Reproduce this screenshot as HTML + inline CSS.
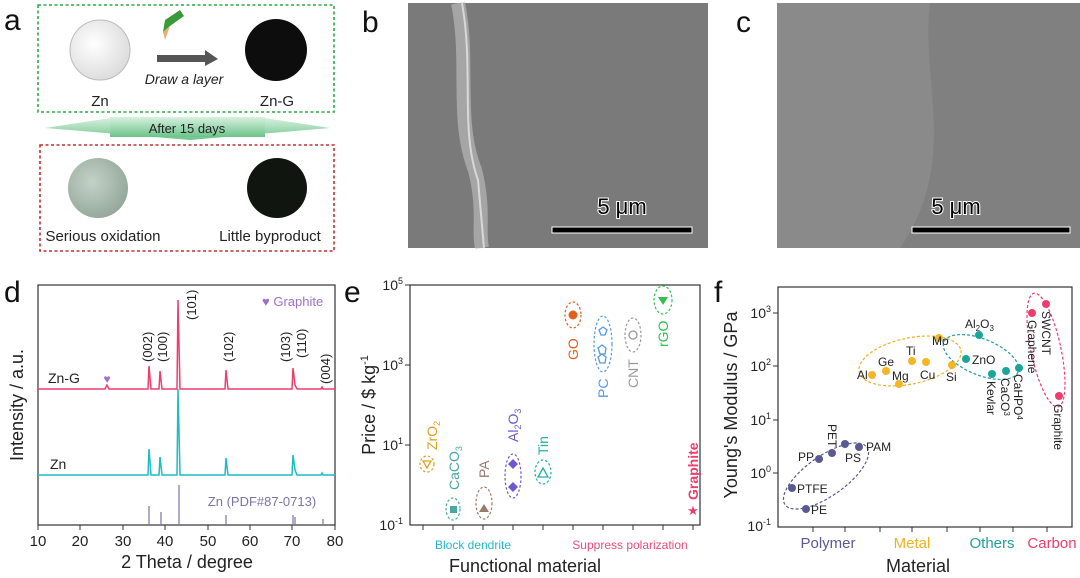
<!DOCTYPE html>
<html><head><meta charset="utf-8"><style>
html,body{margin:0;padding:0;background:#fff}
svg{display:block;font-family:"Liberation Sans",sans-serif}
</style></head><body>
<svg width="1080" height="578" viewBox="0 0 1080 578" xmlns="http://www.w3.org/2000/svg">
<defs>
<linearGradient id="ban" x1="0" y1="0" x2="0" y2="1"><stop offset="0" stop-color="#d8f0df"/><stop offset="1" stop-color="#6cc48a"/></linearGradient>
<radialGradient id="zn" cx="0.4" cy="0.4" r="0.7"><stop offset="0" stop-color="#fff"/><stop offset="1" stop-color="#d8d8d8"/></radialGradient>
<radialGradient id="ox" cx="0.4" cy="0.4" r="0.7"><stop offset="0" stop-color="#c4d2c8"/><stop offset="1" stop-color="#8fa396"/></radialGradient>
</defs>
<!-- panel b -->
<rect x="408" y="3" width="300" height="245" fill="#7a7a7a"/>
<path d="M458,3 C470,60 455,120 475,170 C485,210 478,230 482,248" stroke="#c8c8c8" stroke-width="14" fill="none" opacity="0.55"/>
<path d="M462,3 C474,70 460,130 478,180 L484,248" stroke="#eee" stroke-width="2" fill="none" opacity="0.7"/>
<rect x="552" y="227" width="140" height="6" fill="#000" stroke="#fff" stroke-width="1"/>
<text x="622" y="214" font-size="22" text-anchor="middle" fill="#000" stroke="#fff" stroke-width="2" paint-order="stroke">5 μm</text>
<!-- panel c -->
<rect x="777" y="3" width="303" height="245" fill="#8a8a8a"/>
<path d="M930,3 C920,80 960,160 900,248 L1080,248 L1080,3Z" fill="#808080"/>
<rect x="912" y="227" width="158" height="6" fill="#000" stroke="#fff" stroke-width="1"/>
<text x="956" y="214" font-size="22" text-anchor="middle" fill="#000" stroke="#fff" stroke-width="2" paint-order="stroke">5 μm</text>
<!-- panel letters -->
<g font-size="30" fill="#111">
<text x="4" y="30">a</text><text x="362" y="32">b</text><text x="736" y="32">c</text>
<text x="4" y="302">d</text><text x="344" y="302">e</text><text x="714" y="302">f</text>
</g>
<!-- panel a -->
<rect x="38" y="5" width="296" height="107" fill="none" stroke="#2ea84a" stroke-width="1.6" stroke-dasharray="3,2.5"/>
<circle cx="100" cy="50" r="30" fill="url(#zn)" stroke="#bbb"/>
<circle cx="276" cy="50" r="31" fill="#0d0d0d"/>
<polygon points="157,55 205,55 205,50 218,59 205,66 205,62 157,62" fill="#555"/>
<polygon points="165,20 180,10 184,16 170,26 163,32" fill="#3a9a3a"/>
<polygon points="163,32 170,26 165,40" fill="#e5b070"/>
<text x="100" y="106" font-size="15" text-anchor="middle" fill="#222">Zn</text>
<text x="277" y="106" font-size="15" text-anchor="middle" fill="#222">Zn-G</text>
<text x="184" y="84" font-size="14" font-style="italic" text-anchor="middle" fill="#222">Draw a layer</text>
<polygon points="45,128 110,118 265,118 330,128 190,140" fill="url(#ban)"/>
<rect x="110" y="117" width="155" height="20" fill="url(#ban)"/>
<text x="187" y="133" font-size="13" text-anchor="middle" fill="#222">After 15 days</text>
<rect x="40" y="145" width="294" height="106" fill="none" stroke="#c03030" stroke-width="1.6" stroke-dasharray="3,2.5"/>
<circle cx="98" cy="188" r="30" fill="url(#ox)"/>
<circle cx="277" cy="188" r="30" fill="#101510"/>
<text x="103" y="241" font-size="15" text-anchor="middle" fill="#222">Serious oxidation</text>
<text x="270" y="241" font-size="15" text-anchor="middle" fill="#222">Little byproduct</text>

<!-- panel d -->
<g font-size="15" fill="#222">
<rect x="38" y="285" width="297" height="240" fill="none" stroke="#333" stroke-width="1.2"/>
<g stroke="#333">
<line x1="38" y1="525" x2="38" y2="530"/><line x1="80" y1="525" x2="80" y2="530"/><line x1="123" y1="525" x2="123" y2="530"/><line x1="165" y1="525" x2="165" y2="530"/><line x1="208" y1="525" x2="208" y2="530"/><line x1="250" y1="525" x2="250" y2="530"/><line x1="292" y1="525" x2="292" y2="530"/><line x1="335" y1="525" x2="335" y2="530"/>
</g>
<g text-anchor="middle" font-size="15">
<text x="38" y="546">10</text><text x="80" y="546">20</text><text x="123" y="546">30</text><text x="165" y="546">40</text><text x="208" y="546">50</text><text x="250" y="546">60</text><text x="292" y="546">70</text><text x="335" y="546">80</text>
</g>
<text x="187" y="568" font-size="18" text-anchor="middle">2 Theta / degree</text>
<text transform="translate(23,405) rotate(-90)" font-size="18" text-anchor="middle">Intensity / a.u.</text>
<polyline fill="none" stroke="#ee3d6d" stroke-width="1.5" points="38,389 105,389 107,385 109,389 148,389 149,366 151,389 159,389 160,371 162,389 177,389 178,300 180,389 225,389 226,370 228,389 292,389 293,368 295,385 297,389 321,389 322,387 323,389 335,389"/>
<polyline fill="none" stroke="#1bbcc2" stroke-width="1.5" points="38,475 148,475 149,449 151,475 159,475 160,457 162,475 177,475 178,389 180,475 225,475 226,458 228,475 292,475 293,455 295,470 297,475 321,475 322,473 323,475 335,475"/>
<g stroke="#7a74a8" stroke-width="1.2">
<line x1="149" y1="525" x2="149" y2="506"/><line x1="161" y1="525" x2="161" y2="512"/><line x1="179" y1="525" x2="179" y2="485"/><line x1="226" y1="525" x2="226" y2="515"/><line x1="293" y1="525" x2="293" y2="515"/><line x1="295" y1="525" x2="295" y2="517"/><line x1="323" y1="525" x2="323" y2="519"/>
</g>
<text x="48" y="383" font-size="14">Zn-G</text>
<text x="50" y="469" font-size="14">Zn</text>
<text x="262" y="506" font-size="13" fill="#7a74a8" text-anchor="middle">Zn (PDF#87-0713)</text>
<text x="262" y="306" font-size="13" fill="#a070c8">♥ Graphite</text>
<text x="107" y="383" font-size="12" fill="#a070c8" text-anchor="middle">♥</text>
<g font-size="13">
<text transform="translate(152,362) rotate(-90)">(002)</text>
<text transform="translate(167,362) rotate(-90)">(100)</text>
<text transform="translate(196,320) rotate(-90)">(101)</text>
<text transform="translate(233,362) rotate(-90)">(102)</text>
<text transform="translate(290,362) rotate(-90)">(103)</text>
<text transform="translate(306,358) rotate(-90)">(110)</text>
<text transform="translate(330,384) rotate(-90)">(004)</text>
</g>
</g>

<!-- panel e -->
<g fill="#222">
<rect x="410" y="285" width="290" height="240" fill="none" stroke="#333" stroke-width="1.2"/>
<g stroke="#333">
<line x1="410" y1="285" x2="405" y2="285"/><line x1="410" y1="365" x2="405" y2="365"/><line x1="410" y1="445" x2="405" y2="445"/>
<line x1="423" y1="525" x2="423" y2="530"/><line x1="453" y1="525" x2="453" y2="530"/><line x1="483" y1="525" x2="483" y2="530"/><line x1="513" y1="525" x2="513" y2="530"/><line x1="543" y1="525" x2="543" y2="530"/><line x1="573" y1="525" x2="573" y2="530"/><line x1="603" y1="525" x2="603" y2="530"/><line x1="633" y1="525" x2="633" y2="530"/><line x1="663" y1="525" x2="663" y2="530"/><line x1="693" y1="525" x2="693" y2="530"/>
</g>
<g font-size="14" text-anchor="end">
<text x="403" y="290">10<tspan font-size="9" dy="-6">5</tspan></text>
<text x="403" y="370">10<tspan font-size="9" dy="-6">3</tspan></text>
<text x="403" y="450">10<tspan font-size="9" dy="-6">1</tspan></text>
<text x="403" y="530">10<tspan font-size="9" dy="-6">-1</tspan></text>
</g>
<text transform="translate(375,405) rotate(-90)" font-size="18" text-anchor="middle">Price / $ kg<tspan font-size="11" dy="-7">-1</tspan></text>
<text x="473" y="549" font-size="12" fill="#20b8c8" text-anchor="middle">Block dendrite</text>
<text x="630" y="549" font-size="12" fill="#ee4a7a" text-anchor="middle">Suppress polarization</text>
<text x="525" y="572" font-size="18" text-anchor="middle">Functional material</text>
<g fill="none" stroke-width="1.2" stroke-dasharray="2.5,2">
<ellipse cx="427" cy="464" rx="7" ry="8" stroke="#e0a020"/>
<ellipse cx="453" cy="509" rx="7" ry="11" stroke="#4aa8a0"/>
<ellipse cx="484" cy="503" rx="8" ry="16" stroke="#9a7a6a"/>
<ellipse cx="513" cy="476" rx="8" ry="22" stroke="#6a5acd"/>
<ellipse cx="543" cy="472" rx="8" ry="12" stroke="#20b0a8"/>
<ellipse cx="573" cy="315" rx="8" ry="13" stroke="#e06020"/>
<ellipse cx="603" cy="344" rx="9" ry="28" stroke="#5599e0"/>
<ellipse cx="633" cy="335" rx="8" ry="17" stroke="#999"/>
<ellipse cx="663" cy="300" rx="9" ry="14" stroke="#30c050"/>
</g>
<polygon points="423,461 431,461 427,468" fill="none" stroke="#e0a020" stroke-width="1.3"/>
<rect x="450" y="506" width="7" height="7" fill="#4aa8a0"/>
<polygon points="484,504 489,512 479,512" fill="#9a7a6a"/>
<polygon points="513,459 518,464 513,469 508,464" fill="#6a5acd"/><polygon points="513,482 518,487 513,492 508,487" fill="#6a5acd"/>
<polygon points="543,468 548,477 538,477" fill="none" stroke="#20b0a8" stroke-width="1.3"/>
<circle cx="573" cy="315" r="4.5" fill="#e06020"/>
<polygon points="603,327 607,330 605,335 601,335 599,330" fill="none" stroke="#5599e0" stroke-width="1.3"/>
<polygon points="598,348 602,345 606,348 605,354 600,354" fill="none" stroke="#5599e0" stroke-width="1.3"/><polygon points="598,357 602,354 606,357 605,363 600,363" fill="none" stroke="#5599e0" stroke-width="1.3"/>
<circle cx="633" cy="335" r="4" fill="none" stroke="#999" stroke-width="1.3"/>
<polygon points="658,297 668,297 663,305" fill="#30c050"/>
<text x="693" y="515" font-size="13" fill="#ee3d6d" text-anchor="middle">★</text>
<g font-size="14">
<text transform="translate(437,450) rotate(-90)" fill="#e0a020">ZrO<tspan font-size="9" dy="3">2</tspan></text>
<text transform="translate(459,490) rotate(-90)" fill="#4aa8a0">CaCO<tspan font-size="9" dy="3">3</tspan></text>
<text transform="translate(489,478) rotate(-90)" fill="#9a7a6a">PA</text>
<text transform="translate(518,442) rotate(-90)" fill="#6a5acd">Al<tspan font-size="9" dy="3">2</tspan><tspan dy="-3">O</tspan><tspan font-size="9" dy="3">3</tspan></text>
<text transform="translate(548,455) rotate(-90)" fill="#20b0a8">Tin</text>
<text transform="translate(578,360) rotate(-90)" fill="#e06020">GO</text>
<text transform="translate(608,398) rotate(-90)" fill="#5599e0">PC</text>
<text transform="translate(638,388) rotate(-90)" fill="#999">CNT</text>
<text transform="translate(668,347) rotate(-90)" fill="#30c050">rGO</text>
<text transform="translate(698,500) rotate(-90)" fill="#ee3d6d" font-weight="bold">Graphite</text>
</g>
</g>

<!-- panel f -->
<g fill="#222">
<rect x="778" y="287" width="294" height="240" fill="none" stroke="#333" stroke-width="1.2"/>
<g stroke="#333">
<line x1="778" y1="313" x2="773" y2="313"/><line x1="778" y1="366" x2="773" y2="366"/><line x1="778" y1="420" x2="773" y2="420"/><line x1="778" y1="473" x2="773" y2="473"/>
<line x1="813" y1="527" x2="813" y2="532"/><line x1="845" y1="527" x2="845" y2="532"/><line x1="880" y1="527" x2="880" y2="532"/><line x1="912" y1="527" x2="912" y2="532"/><line x1="947" y1="527" x2="947" y2="532"/><line x1="980" y1="527" x2="980" y2="532"/><line x1="1013" y1="527" x2="1013" y2="532"/><line x1="1047" y1="527" x2="1047" y2="532"/>
</g>
<g font-size="14" text-anchor="end">
<text x="771" y="318">10<tspan font-size="9" dy="-6">3</tspan></text>
<text x="771" y="371">10<tspan font-size="9" dy="-6">2</tspan></text>
<text x="771" y="425">10<tspan font-size="9" dy="-6">1</tspan></text>
<text x="771" y="478">10<tspan font-size="9" dy="-6">0</tspan></text>
<text x="771" y="531">10<tspan font-size="9" dy="-6">-1</tspan></text>
</g>
<text transform="translate(737,405) rotate(-90)" font-size="18" text-anchor="middle">Young's Modulus / GPa</text>
<g font-size="15" text-anchor="middle">
<text x="828" y="548" fill="#5a5a90">Polymer</text><text x="912" y="548" fill="#f0b020">Metal</text><text x="992" y="548" fill="#20a098">Others</text><text x="1052" y="548" fill="#ee3d6d">Carbon</text>
</g>
<text x="918" y="572" font-size="18" text-anchor="middle">Material</text>
<g fill="none" stroke-width="1.2" stroke-dasharray="3,2">
<ellipse cx="826" cy="476" rx="50" ry="20" transform="rotate(-35 826 476)" stroke="#5a5a90"/>
<ellipse cx="910" cy="361" rx="52" ry="23" transform="rotate(-12 910 361)" stroke="#f0b020"/>
<ellipse cx="981" cy="357" rx="40" ry="18" transform="rotate(22 981 357)" stroke="#20a098"/>
<ellipse cx="1046" cy="350" rx="15" ry="58" transform="rotate(-12 1046 350)" stroke="#ee3d6d"/>
</g>
<g fill="#5a5a90"><circle cx="792" cy="488" r="4"/><circle cx="806" cy="509" r="4"/><circle cx="819" cy="459" r="4"/><circle cx="832" cy="453" r="4"/><circle cx="845" cy="444" r="4"/><circle cx="859" cy="447" r="4"/></g>
<g fill="#f5b525"><circle cx="872" cy="375" r="4"/><circle cx="886" cy="371" r="4"/><circle cx="899" cy="384" r="4"/><circle cx="912" cy="361" r="4"/><circle cx="926" cy="362" r="4"/><circle cx="939" cy="338" r="4"/><circle cx="952" cy="365" r="4"/></g>
<g fill="#1aa59c"><circle cx="966" cy="359" r="4"/><circle cx="979" cy="335" r="4"/><circle cx="992" cy="374" r="4"/><circle cx="1006" cy="371" r="4"/><circle cx="1019" cy="368" r="4"/></g>
<g fill="#ee3d6d"><circle cx="1032" cy="313" r="4"/><circle cx="1046" cy="304" r="4"/><circle cx="1059" cy="396" r="4"/></g>
<g font-size="12">
<text x="797" y="493">PTFE</text><text x="811" y="514">PE</text><text x="798" y="461">PP</text><text x="845" y="462">PS</text><text x="866" y="451">PAM</text>
<text transform="translate(828,424) rotate(90)">PET</text>
<text x="857" y="379">Al</text><text x="878" y="366">Ge</text><text x="892" y="380">Mg</text><text x="906" y="355">Ti</text><text x="920" y="379">Cu</text><text x="932" y="345">Mo</text><text x="946" y="381">Si</text>
<text x="972" y="364">ZnO</text><text x="965" y="328">Al<tspan font-size="8" dy="3">2</tspan><tspan dy="-3">O</tspan><tspan font-size="8" dy="3">3</tspan></text>
<text transform="translate(987,381) rotate(90)">Kevlar</text>
<text transform="translate(1001,378) rotate(90)">CaCO<tspan font-size="8" dy="-3">3</tspan></text>
<text transform="translate(1014,374) rotate(90)">CaHPO<tspan font-size="8" dy="-3">4</tspan></text>
<text transform="translate(1028,320) rotate(90)">Graphene</text>
<text transform="translate(1042,311) rotate(90)">SWCNT</text>
<text transform="translate(1054,404) rotate(90)">Graphite</text>
</g>
</g>
</svg>
</body></html>
